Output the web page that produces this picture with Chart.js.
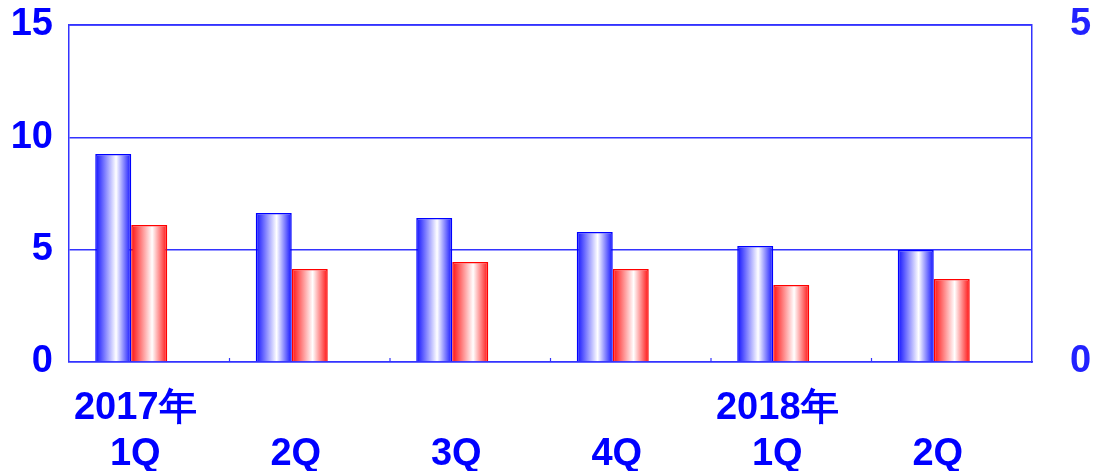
<!DOCTYPE html>
<html><head><meta charset="utf-8">
<script src="https://cdn.jsdelivr.net/npm/chart.js@4/dist/chart.umd.min.js"></script>
<style>html,body{margin:0;padding:0;background:#fff}#wrap{width:1095px;height:475px}</style>
</head><body><div id="wrap"><canvas id="c"></canvas></div>
<script>
const categories = [["2017年","1Q"],["","2Q"],["","3Q"],["","4Q"],["2018年","1Q"],["","2Q"]];
const blueValues = [9.26, 6.63, 6.41, 5.79, 5.16, 4.98];
const redValues = [6.10, 4.14, 4.45, 4.14, 3.43, 3.69];
const emptyValues = [null, null, null, null, null, null];
const leftTicks = [0, 5, 10, 15];
const rightTicks = [0, 5];

const gradPlugin = {
  id: 'grad',
  beforeDatasetsDraw(chart) {
    const ctx = chart.ctx;
    chart.data.datasets.forEach((ds, i) => {
      if (!ds.gradColor) return;
      const meta = chart.getDatasetMeta(i);
      const col = ds.gradColor;
      meta.data.forEach(el => {
        const l = el.x - el.width / 2, r = el.x + el.width / 2;
        const g = ctx.createLinearGradient(l, 0, r, 0);
        g.addColorStop(0, col);
        g.addColorStop(0.58, '#ffffff');
        g.addColorStop(1, col);
        el.options = Object.assign({}, el.options, {backgroundColor: g});
      });
    });
  }
};

const axisPlugin = {
  id: 'axisDeco',
  afterDatasetsDraw(chart) {
    const {ctx, chartArea: a} = chart;
    const xs = chart.scales.x;
    ctx.save(); ctx.strokeStyle = '#3333ff'; ctx.lineWidth = 1.5;
    ctx.beginPath(); ctx.moveTo(a.left, a.top); ctx.lineTo(a.right, a.top); ctx.stroke();
    ctx.lineWidth = 1.2;
    for (let i = 0; i < categories.length - 1; i++) {
      const bx = (xs.getPixelForValue(i) + xs.getPixelForValue(i + 1)) / 2;
      ctx.beginPath(); ctx.moveTo(bx, a.bottom); ctx.lineTo(bx, a.bottom - 4); ctx.stroke();
    }
    ctx.restore();
  }
};

const noPad = (s) => { s.paddingTop = 0; s.paddingBottom = 0; s.paddingLeft = 0; s.paddingRight = 0; };
const tickFont = {family: 'Liberation Sans', size: 38, weight: 'bold'};

new Chart(document.getElementById('c'), {
  type: 'bar',
  data: {
    labels: categories,
    datasets: [
      {data: blueValues, gradColor: '#1010ff', borderColor: '#0000ff', borderWidth: 1.5, backgroundColor: () => '#8080ff', yAxisID: 'y'},
      {data: redValues, gradColor: '#ff1010', borderColor: '#ff0000', borderWidth: 1.5, backgroundColor: () => '#ff8080', yAxisID: 'y'},
      {data: emptyValues, borderWidth: 0, backgroundColor: 'rgba(0,0,0,0)', yAxisID: 'y2'}
    ]
  },
  options: {
    responsive: true, maintainAspectRatio: false, animation: false,
    layout: {padding: {top: 25, right: 4, left: 11, bottom: 4}},
    plugins: {legend: {display: false}, tooltip: {enabled: false}},
    datasets: {bar: {categoryPercentage: 0.673, barPercentage: 1.0}},
    scales: {
      x: {
        afterFit: (s) => { noPad(s); s.height = 109; },
        grid: {display: false},
        border: {color: '#3333ff', width: 1.5},
        ticks: {color: '#0000ff', font: Object.assign({lineHeight: 1.22}, tickFont), maxRotation: 0, autoSkip: false, padding: 15, labelOffset: -14}
      },
      y: {
        position: 'left', min: 0, max: 15,
        afterFit: (s) => { noPad(s); s.width = 58; },
        afterBuildTicks: (s) => { s.ticks = leftTicks.map(v => ({value: v})); },
        grid: {color: '#3333ff', lineWidth: 1.5, drawTicks: false},
        border: {color: '#3333ff', width: 1.5},
        ticks: {color: '#0000ff', font: tickFont, padding: 16}
      },
      y2: {
        position: 'right', min: 0, max: 5,
        afterFit: (s) => { noPad(s); s.width = 59; },
        afterBuildTicks: (s) => { s.ticks = rightTicks.map(v => ({value: v})); },
        grid: {display: false, drawTicks: false},
        border: {color: '#3333ff', width: 1.5},
        ticks: {color: '#2222ff', font: tickFont, padding: 38}
      }
    }
  },
  plugins: [gradPlugin, axisPlugin]
});
</script></body></html>
